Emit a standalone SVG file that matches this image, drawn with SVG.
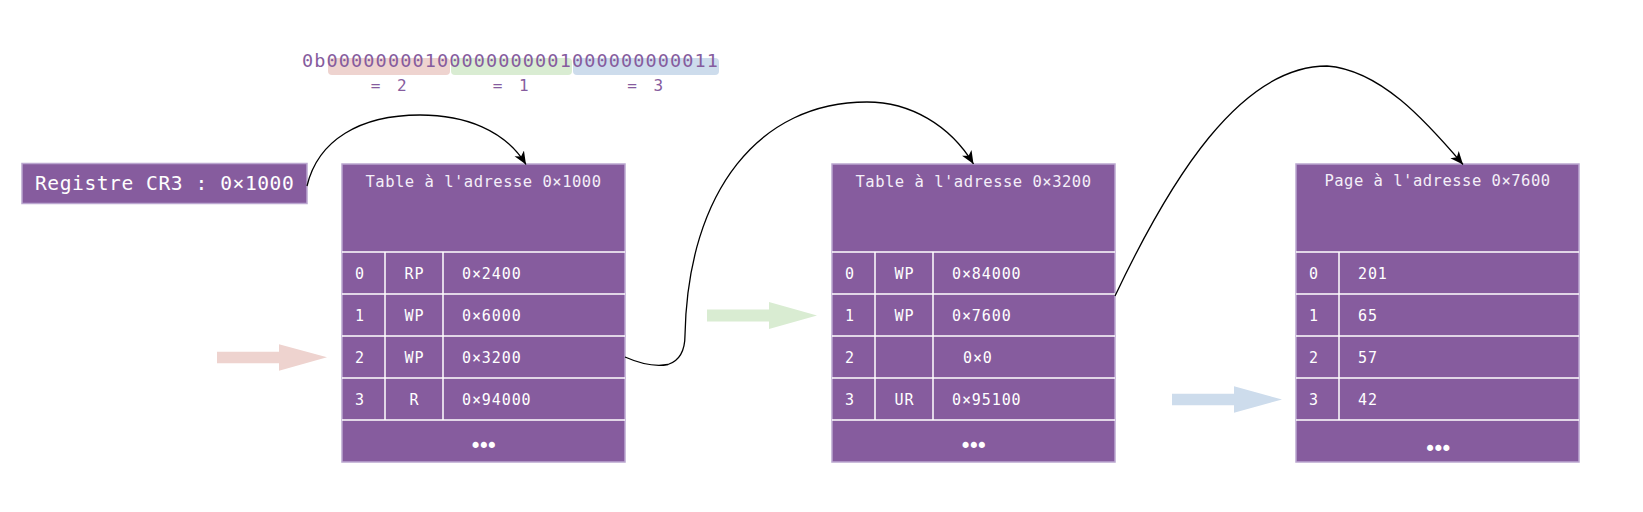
<svg xmlns="http://www.w3.org/2000/svg" width="1643" height="512" viewBox="0 0 1643 512">
<style>
.box{fill:#865c9e;stroke:#bba7d0;stroke-width:1.5}
.ln{stroke:#ffffff;stroke-width:1.5}
.t{font-family:"DejaVu Sans Mono","Liberation Mono",monospace;fill:#ffffff}
.hd{font-size:15.5px;letter-spacing:0.5px;text-anchor:middle;fill:#f4eef8}
.rw{font-size:15px;letter-spacing:0.9px}
.mid{text-anchor:middle}
.dots{font-size:21px;letter-spacing:-4.5px;text-anchor:middle}
.bin{font-family:"DejaVu Sans Mono","Liberation Mono",monospace;fill:#865c9e}
.eq{font-size:16px;letter-spacing:3.5px;text-anchor:middle}
.conn{fill:none;stroke:#000000;stroke-width:1.3}
</style>
<defs>
<marker id="ah" markerUnits="userSpaceOnUse" markerWidth="14" markerHeight="12" refX="13" refY="5.5" orient="auto">
<path d="M0,0 L13,5.5 L0,11 L3.5,5.5 Z" fill="#000000"/>
</marker>
</defs>

<g id="binary">
<rect x="328" y="58" width="122" height="17" rx="4" fill="#eed3cf"/>
<rect x="451" y="58" width="121" height="17" rx="4" fill="#d9ecd2"/>
<rect x="573" y="58" width="146" height="17" rx="4" fill="#cddcec"/>
<text class="bin" x="302" y="66.7" font-size="18.5" textLength="416" lengthAdjust="spacing">0b00000000100000000001000000000011</text>
<text class="bin eq" x="390.5" y="91">= 2</text>
<text class="bin eq" x="512.5" y="91">= 1</text>
<text class="bin eq" x="647" y="91">= 3</text>
</g>

<g id="cr3">
<rect class="box" x="22" y="163.5" width="285" height="40"/>
<text class="t" x="35" y="189.5" font-size="19.6" letter-spacing="0.55">Registre CR3 : 0×1000</text>
</g>

<g id="table1">
<rect class="box" x="342" y="164" width="283" height="298"/>
<line class="ln" x1="342" y1="252" x2="625" y2="252"/>
<line class="ln" x1="342" y1="294" x2="625" y2="294"/>
<line class="ln" x1="342" y1="336" x2="625" y2="336"/>
<line class="ln" x1="342" y1="378" x2="625" y2="378"/>
<line class="ln" x1="342" y1="420" x2="625" y2="420"/>
<line class="ln" x1="385" y1="252" x2="385" y2="420"/>
<line class="ln" x1="443" y1="252" x2="443" y2="420"/>
<text class="t hd" x="483.5" y="187.3">Table à l'adresse 0×1000</text>
<text class="t rw" x="355" y="279">0</text>
<text class="t rw mid" x="414.5" y="279">RP</text>
<text class="t rw" x="462" y="279">0×2400</text>
<text class="t rw" x="355" y="321">1</text>
<text class="t rw mid" x="414.5" y="321">WP</text>
<text class="t rw" x="462" y="321">0×6000</text>
<text class="t rw" x="355" y="363">2</text>
<text class="t rw mid" x="414.5" y="363">WP</text>
<text class="t rw" x="462" y="363">0×3200</text>
<text class="t rw" x="355" y="405">3</text>
<text class="t rw mid" x="414.5" y="405">R</text>
<text class="t rw" x="462" y="405">0×94000</text>
<text class="t dots" x="481.5" y="453">•••</text>
</g>

<g id="table2">
<rect class="box" x="832" y="164" width="283" height="298"/>
<line class="ln" x1="832" y1="252" x2="1115" y2="252"/>
<line class="ln" x1="832" y1="294" x2="1115" y2="294"/>
<line class="ln" x1="832" y1="336" x2="1115" y2="336"/>
<line class="ln" x1="832" y1="378" x2="1115" y2="378"/>
<line class="ln" x1="832" y1="420" x2="1115" y2="420"/>
<line class="ln" x1="875" y1="252" x2="875" y2="420"/>
<line class="ln" x1="933" y1="252" x2="933" y2="420"/>
<text class="t hd" x="973.5" y="187.3">Table à l'adresse 0×3200</text>
<text class="t rw" x="845" y="279">0</text>
<text class="t rw mid" x="904.5" y="279">WP</text>
<text class="t rw" x="952" y="279">0×84000</text>
<text class="t rw" x="845" y="321">1</text>
<text class="t rw mid" x="904.5" y="321">WP</text>
<text class="t rw" x="952" y="321">0×7600</text>
<text class="t rw" x="845" y="363">2</text>
<text class="t rw" x="963" y="363">0×0</text>
<text class="t rw" x="845" y="405">3</text>
<text class="t rw mid" x="904.5" y="405">UR</text>
<text class="t rw" x="952" y="405">0×95100</text>
<text class="t dots" x="971.5" y="453">•••</text>
</g>

<g id="page">
<rect class="box" x="1296" y="164" width="283" height="298"/>
<line class="ln" x1="1296" y1="252" x2="1579" y2="252"/>
<line class="ln" x1="1296" y1="294" x2="1579" y2="294"/>
<line class="ln" x1="1296" y1="336" x2="1579" y2="336"/>
<line class="ln" x1="1296" y1="378" x2="1579" y2="378"/>
<line class="ln" x1="1296" y1="420" x2="1579" y2="420"/>
<line class="ln" x1="1339" y1="252" x2="1339" y2="420"/>
<text class="t hd" x="1437.5" y="185.5">Page à l'adresse 0×7600</text>
<text class="t rw" x="1309" y="279">0</text>
<text class="t rw" x="1358" y="279">201</text>
<text class="t rw" x="1309" y="321">1</text>
<text class="t rw" x="1358" y="321">65</text>
<text class="t rw" x="1309" y="363">2</text>
<text class="t rw" x="1358" y="363">57</text>
<text class="t rw" x="1309" y="405">3</text>
<text class="t rw" x="1358" y="405">42</text>
<text class="t dots" x="1436" y="455.5">•••</text>
</g>

<g id="index-arrows">
<polygon points="217,351.7 279,351.7 279,344.3 327,357.3 279,370.7 279,363.3 217,363.3" fill="#eed3cf"/>
<polygon points="707,309.5 769,309.5 769,302 817,315.5 769,329 769,321.5 707,321.5" fill="#d9ecd2"/>
<polygon points="1172,393.7 1234,393.7 1234,386.3 1282,399.5 1234,412.7 1234,405.3 1172,405.3" fill="#cddcec"/>
</g>

<g id="connectors">
<path class="conn" marker-end="url(#ah)" d="M307,186 C318,140 360,115 420,115 C465,115 505,130 526,164.5"/>
<path class="conn" marker-end="url(#ah)" d="M625,357 Q650,368 668,364.5 Q685,359 685,335 C688,190 760,102 867,102 C910,102 950,125 973.5,164"/>
<path class="conn" marker-end="url(#ah)" d="M1115,296 C1170,180 1240,66 1327,66 C1380,70 1425,120 1463,164.5"/>
</g>
</svg>
